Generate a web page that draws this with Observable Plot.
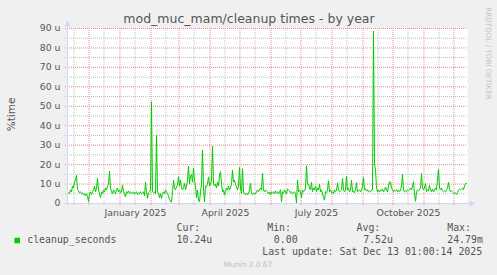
<!DOCTYPE html>
<html><head><meta charset="utf-8">
<script src="https://cdn.jsdelivr.net/npm/d3@7"></script>
<script src="https://cdn.jsdelivr.net/npm/@observablehq/plot@0.6"></script>
<style>html,body{margin:0;padding:0;background:#f0f0f0;} #chart svg{display:block;}</style>
</head><body><div id="chart"></div>
<script>
const title = "mod_muc_mam/cleanup times - by year";
const yLabel = "%time";
const seriesName = "cleanup_seconds";
const yTicks = [0, 10, 20, 30, 40, 50, 60, 70, 80, 90];
const yTickLabels = ["0", "10 u", "20 u", "30 u", "40 u", "50 u", "60 u", "70 u", "80 u", "90 u"];
const xTickDates = ["2025-01-16T12:00Z", "2025-04-16T12:00Z", "2025-07-16T12:00Z", "2025-10-16T12:00Z"];
const xTickLabels = ["January 2025", "April 2025", "July 2025", "October 2025"];
const statHeaders = ["Cur:", "Min:", "Avg:", "Max:"];
const statValues = ["10.24u", "0.00", "7.52u", "24.79m"];
const lastUpdate = "Last update: Sat Dec 13 01:00:14 2025";
const version = "Munin 2.0.67";
const watermark = "RRDTOOL / TOBI OETIKER";
const domainStart = "2024-11-09T12:00Z";
const domainEnd = "2025-12-14T12:00Z";
const seriesStart = "2024-11-09T12:00Z"; // one value per day (micro-units)
const values = [
  5,5.5,5,7,6,9,8,11,12,14.5,7,6.5,5.5,6,5,5.5,4.5,5,4,5,
  3.5,1,5,6,4.5,6,7,9,6,8,12.9,7,5,3,6,5,7,6,8,7,
  9,10,16.6,8,6,5,7,6,5,7,8,6,7,5.5,6,9.4,6,5,3.4,6,
  5.5,6.5,5,6,5.5,5,6,5,5.5,6,4.5,5.5,5,6,5,5.5,6,4,11,6,
  2.6,5.5,6,7,52.3,6,5.5,6,5,35,6,5,3,5,2.6,5,6,5,7,6,
  5,4,2,1,0.8,6,12,8,7,8.5,9.5,13.7,9,12,8,7,8,10.3,7,9,
  12,19.3,10,14,15,11,18,12,9,3,7,2,0.8,6,10,27.4,8,0.8,9,8.6,
  10,13.7,9,10,12,29.5,10,9,10,8,11,9,14.6,16.3,10,6,7,4.3,6,8,
  7,9,7,8,10,17.1,11,12,10,8.6,7,9,18.5,8,5.1,17.9,6,5,4.5,5.3,
  4.4,5,7,10.3,5,4.5,5.5,4.8,5,6,7,6,7,8,7,15.4,7,6,7,6.5,
  6,5,6,4.4,6,5.5,6,5,6.5,5.5,6,5,6,7,1,6,5.5,7,6,5,
  7.5,7,6.5,5.5,6,5,5.5,6,5,0.3,12,6,7,6,3,7,6,6.5,8,19.4,
  10,10,8,7,10.9,6,8,7,9,6,8,7,10,6,7,5,3,1.7,6,5.5,
  7,11.7,6,7,5.5,6,5,7,6,6.5,10.6,7,6,6.5,7,12.9,7,6,6.8,14,
  7,8,6,7,12,6,6.5,5.5,7,10.6,6,6.5,7,6,7,9,13.4,7,7.5,6.5,
  7,6,6.5,6,7,7,88.6,20,17.6,8,6,7,5.9,7,6.5,7.5,6,7,8.5,7,
  6,9,11.2,11,8,7,6,7,6.5,7,6,7,6,6.5,9,14.9,7,6,6.5,6,
  7,6.5,7,8,7,9,11.2,5,1.1,6,7,6.5,7,8,15.4,8,7,8,10.3,6,
  7,6.5,9.4,7,6,7.5,6,7,8,7,12,17.5,8,7,8,6.5,6,6.5,6,7,
  8,10.9,7,6,6.5,6,5.5,5,5.5,4.7,5.5,7,7.5,7,7.5,8,7,9,10.3,10.24
];

const t0 = +new Date(seriesStart);
const data = values.map((v, i) => ({date: new Date(t0 + i * 864e5), value: v}));

const monthStarts = d3.utcMonth.range(new Date("2024-12-01T00:00Z"), new Date("2025-12-02T00:00Z"));
const midMonths = d3.utcMonth.range(new Date("2024-11-01T00:00Z"), new Date("2025-12-01T00:00Z")).map(d => d3.utcDay.offset(d, 15));
const minorY = [5, 15, 25, 35, 45, 55, 65, 75, 85];
const majorY = yTicks.filter(d => d > 0);

const ML = 67, MT = 28;
const axisColor = "#CFD6F8";
const majorColor = "rgb(232,140,140)";
const minorColor = "rgb(190,190,190)";
const txt = "#555";
const mono = "DejaVu Sans Mono";

const headerX = [176, 266.7, 356, 446.7];
const valueX = [176, 273.3, 362.7, 446.7];

const textAt = (s, x, yMid, opts = {}) => Plot.text([s], {
  frameAnchor: "top-left", text: d => d, dx: x - ML, dy: yMid - MT,
  textAnchor: "start", lineAnchor: "middle", fill: txt, ...opts
});

const chart = Plot.plot({
  width: 497, height: 275,
  marginLeft: ML, marginRight: 30, marginTop: MT, marginBottom: 72,
  style: {fontFamily: "DejaVu Sans", fontSize: "9.3px", color: txt, background: "#f0f0f0", overflow: "visible"},
  x: {type: "utc", domain: [new Date(domainStart), new Date(domainEnd)]},
  y: {domain: [0, 90]},
  marks: [
    Plot.frame({fill: "white", stroke: "none"}),
    Plot.ruleY(minorY, {stroke: minorColor, strokeDasharray: "1,1", insetLeft: -2}),
    Plot.ruleX(midMonths, {stroke: minorColor, strokeDasharray: "1,1", insetBottom: -2}),
    Plot.ruleY(majorY, {stroke: majorColor, strokeDasharray: "1,1", insetLeft: -2}),
    Plot.ruleX(monthStarts, {stroke: majorColor, strokeDasharray: "1,1", insetBottom: -2}),
    Plot.lineY(data, {x: "date", y: "value", stroke: "#00cc00", strokeWidth: 1}),
    Plot.ruleX([new Date(domainStart)], {stroke: axisColor, insetTop: -2, insetBottom: -2}),
    Plot.ruleY([0], {stroke: axisColor, insetLeft: -3, insetRight: -3}),
    Plot.dot([0], {frameAnchor: "top-left", symbol: "triangle", r: 2.3, fill: axisColor, stroke: "none", dy: -4}),
    Plot.dot([0], {frameAnchor: "bottom-right", symbol: "triangle", r: 2.3, fill: axisColor, stroke: "none", dx: 4, rotate: 90}),
    Plot.axisY({ticks: yTicks, tickFormat: d => yTickLabels[yTicks.indexOf(d)], tickSize: 0, tickPadding: 7, label: null}),
    Plot.axisX({ticks: xTickDates.map(d => new Date(d)), tickFormat: d => xTickLabels[xTickDates.findIndex(s => +new Date(s) === +d)], tickSize: 0, tickPadding: 6, label: null}),
    Plot.text([title], {frameAnchor: "top", text: d => d, dx: 248.5 - 267, dy: -9.2, textAnchor: "middle", lineAnchor: "middle", fontSize: 12.5, fill: txt}),
    Plot.text([yLabel], {frameAnchor: "left", text: d => d, dx: 11 - ML, dy: 114 - 115.5, rotate: -90, textAnchor: "middle", lineAnchor: "middle", fontSize: 10.5, fill: txt}),
    Plot.text([watermark], {frameAnchor: "top-right", text: d => d, dx: 487.5 - 467, dy: 53 - MT, rotate: 90, textAnchor: "middle", lineAnchor: "middle", fontSize: 7.2, fill: "#c4c4c4"}),
    Plot.dot([0], {frameAnchor: "top-left", symbol: "square", r: 3.1, fill: "#00cc00", stroke: "none", dx: 16.7 - ML, dy: 240 - MT}),
    textAt(seriesName, 26.7, 242.7 - 3.2, {fontFamily: mono, fontSize: 9.9}),
    ...statHeaders.map((h, i) => textAt(h, headerX[i], 230.7 - 3.2, {fontFamily: mono, fontSize: 9.9})),
    ...statValues.map((v, i) => textAt(v, valueX[i], 242.7 - 3.2, {fontFamily: mono, fontSize: 9.9})),
    textAt(lastUpdate, 261.7, 254.7 - 3.2, {fontFamily: mono, fontSize: 9.9}),
    Plot.text([version], {frameAnchor: "top", text: d => d, dx: 247.5 - 267, dy: 266.7 - 2.4 - MT, textAnchor: "middle", lineAnchor: "middle", fontSize: 7.4, fill: "#c0c0c0"})
  ]
});
document.getElementById("chart").append(chart);
</script>
</body></html>
